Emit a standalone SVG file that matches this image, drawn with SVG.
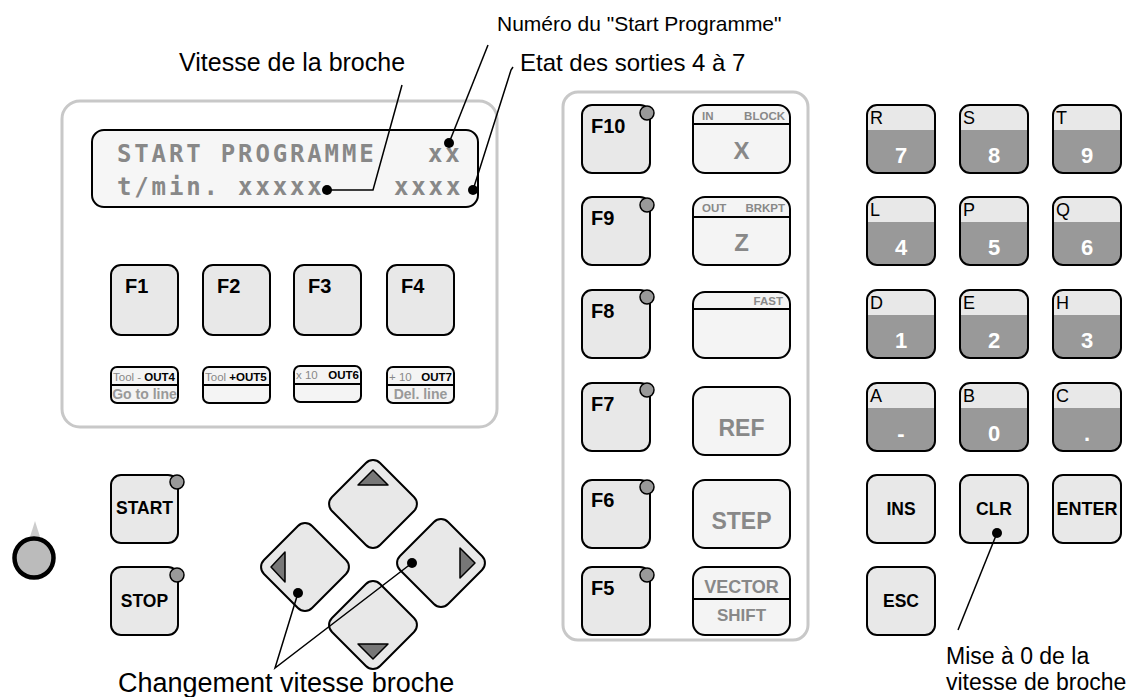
<svg xmlns="http://www.w3.org/2000/svg" xmlns:xlink="http://www.w3.org/1999/xlink" width="1142" height="697" viewBox="0 0 1142 697">
  <style>
    .panel { fill: #ffffff; stroke: #c8c8c8; stroke-width: 3; }
    .key { fill: #e8e8e8; stroke: #000; stroke-width: 2; }
    .keyl { fill: #f4f4f4; stroke: #000; stroke-width: 2; }
    .div { stroke: #000; stroke-width: 2; }
    .led { fill: #999; stroke: #000; stroke-width: 1.5; }
    .lbl { font-family: "Liberation Sans", Arial, sans-serif; }
    .fk { font-family: "Liberation Sans", Arial, sans-serif; font-weight: bold; font-size: 20px; fill: #000; }
    .bk { font-family: "Liberation Sans", Arial, sans-serif; font-weight: bold; font-size: 17.5px; fill: #000; text-anchor: middle; }
    .gbig { font-family: "Liberation Sans", Arial, sans-serif; font-weight: bold; fill: #888; text-anchor: middle; }
    .gsm { font-family: "Liberation Sans", Arial, sans-serif; font-weight: bold; font-size: 11.5px; fill: #888; }
    .letter { font-family: "Liberation Sans", Arial, sans-serif; font-size: 18px; fill: #000; }
    .digit { font-family: "Liberation Sans", Arial, sans-serif; font-weight: bold; font-size: 22px; fill: #fff; text-anchor: middle; }
    .lcd { font-family: "DejaVu Sans Mono", "Liberation Mono", monospace; font-weight: bold; font-size: 24px; fill: #888; letter-spacing: 2.85px; }
    .note { font-family: "Liberation Sans", Arial, sans-serif; fill: #000; }
    .tiny { font-family: "Liberation Sans", Arial, sans-serif; font-size: 11.5px; }
    .ln { fill: none; stroke: #000; stroke-width: 1.5; }
    .arrow { fill: #777; stroke: #000; stroke-width: 1.5; stroke-linejoin: round; }
  </style>
  <defs>
    <!-- function key body -->
    <g id="fkey">
      <rect class="key" x="0" y="0" width="68" height="68" rx="10"/>
    </g>
    <!-- numeric key: light top band, grey lower band -->
    <g id="numkey">
      <rect x="0" y="0" width="68" height="68" rx="10" fill="#e8e8e8"/>
      <path d="M0,25 H68 V58 A10,10 0 0 1 58,68 H10 A10,10 0 0 1 0,58 Z" fill="#999"/>
      <rect x="0" y="0" width="68" height="68" rx="10" fill="none" stroke="#000" stroke-width="2"/>
    </g>
    <!-- small legend strip under F1..F4 -->
    <g id="strip">
      <rect class="keyl" x="0" y="0" width="67" height="36" rx="6"/>
      <line class="div" x1="0" y1="18" x2="67" y2="18"/>
    </g>
    <!-- rounded diamond for the spindle keys -->
    <rect id="diamond" class="key" x="-34" y="-34" width="68" height="68" rx="10" transform="rotate(45)"/>
  </defs>

  <!-- left panel: display and F1..F4 -->
  <g id="display-panel">
    <rect class="panel" x="62" y="101" width="435" height="326" rx="18"/>
  </g>
  <g id="lcd">
    <rect x="92" y="130" width="386" height="77" rx="12" fill="#f6f6f6" stroke="#000" stroke-width="2"/>
    <text class="lcd" x="117" y="162">START PROGRAMME</text>
    <text class="lcd" x="428" y="162">xx</text>
    <text class="lcd" x="117" y="195">t/min. xxxxx</text>
    <text class="lcd" x="394" y="195">xxxx</text>
  </g>

  <g id="key-f1"><rect class="key" x="111" y="265" width="67" height="70" rx="10"/><text class="fk" x="125" y="293">F1</text></g>
  <g id="key-f2"><rect class="key" x="203" y="265" width="67" height="70" rx="10"/><text class="fk" x="217" y="293">F2</text></g>
  <g id="key-f3"><rect class="key" x="294" y="265" width="67" height="70" rx="10"/><text class="fk" x="308" y="293">F3</text></g>
  <g id="key-f4"><rect class="key" x="387" y="265" width="67" height="70" rx="10"/><text class="fk" x="401" y="293">F4</text></g>

  <g id="legend-f1">
    <use xlink:href="#strip" x="111" y="367"/>
    <text class="tiny" x="113" y="381"><tspan fill="#888">Tool - </tspan><tspan font-weight="bold" fill="#000">OUT4</tspan></text>
    <text class="lbl" x="144.5" y="399" font-size="14" font-weight="bold" fill="#999" text-anchor="middle">Go to line</text>
  </g>
  <g id="legend-f2">
    <use xlink:href="#strip" x="203" y="367"/>
    <text class="tiny" x="205" y="381"><tspan fill="#888">Tool </tspan><tspan font-weight="bold" fill="#000">+OUT5</tspan></text>
  </g>
  <g id="legend-f3">
    <use xlink:href="#strip" x="294" y="366"/>
    <text class="tiny" x="296" y="379" fill="#888">x 10</text>
    <text class="tiny" x="359" y="379" font-weight="bold" text-anchor="end">OUT6</text>
  </g>
  <g id="legend-f4">
    <use xlink:href="#strip" x="387" y="367"/>
    <text class="tiny" x="389" y="381" fill="#888">+ 10</text>
    <text class="tiny" x="452" y="381" font-weight="bold" text-anchor="end">OUT7</text>
    <text class="lbl" x="420.5" y="399" font-size="14" font-weight="bold" fill="#999" text-anchor="middle">Del. line</text>
  </g>

  <!-- middle panel: F5..F10 and jog keys -->
  <g id="function-panel">
    <rect class="panel" x="563" y="92" width="245" height="548" rx="15"/>
  </g>
  <g id="key-f10"><use xlink:href="#fkey" x="582" y="105"/><circle class="led" cx="647" cy="113" r="7"/><text class="fk" x="591" y="133">F10</text></g>
  <g id="key-f9"><use xlink:href="#fkey" x="582" y="197"/><circle class="led" cx="647" cy="205" r="7"/><text class="fk" x="591" y="225">F9</text></g>
  <g id="key-f8"><use xlink:href="#fkey" x="582" y="290"/><circle class="led" cx="647" cy="297" r="7"/><text class="fk" x="591" y="318">F8</text></g>
  <g id="key-f7"><use xlink:href="#fkey" x="582" y="383"/><circle class="led" cx="647" cy="390" r="7"/><text class="fk" x="591" y="411">F7</text></g>
  <g id="key-f6"><use xlink:href="#fkey" x="582" y="480"/><circle class="led" cx="647" cy="487" r="7"/><text class="fk" x="591" y="507">F6</text></g>
  <g id="key-f5"><use xlink:href="#fkey" x="582" y="567"/><circle class="led" cx="647" cy="575" r="7"/><text class="fk" x="591" y="595">F5</text></g>

  <g id="key-x">
    <rect class="keyl" x="693" y="105" width="97" height="68" rx="12"/>
    <line class="div" x1="693" y1="124" x2="790" y2="124"/>
    <text class="gsm" x="702" y="120">IN</text>
    <text class="gsm" x="785" y="120" text-anchor="end">BLOCK</text>
    <text class="gbig" x="741.5" y="159" style="font-size:24px">X</text>
  </g>
  <g id="key-z">
    <rect class="keyl" x="693" y="197" width="97" height="68" rx="12"/>
    <line class="div" x1="693" y1="217" x2="790" y2="217"/>
    <text class="gsm" x="702" y="212">OUT</text>
    <text class="gsm" x="785" y="212" text-anchor="end">BRKPT</text>
    <text class="gbig" x="741.5" y="251" style="font-size:24px">Z</text>
  </g>
  <g id="key-fast">
    <rect class="keyl" x="693" y="292" width="97" height="66" rx="12"/>
    <line class="div" x1="693" y1="309" x2="790" y2="309"/>
    <text class="gsm" x="783" y="305" text-anchor="end">FAST</text>
  </g>
  <g id="key-ref">
    <rect class="keyl" x="693" y="387" width="97" height="68" rx="12"/>
    <text class="gbig" x="741.5" y="436" style="font-size:23px">REF</text>
  </g>
  <g id="key-step">
    <rect class="keyl" x="693" y="480" width="97" height="68" rx="12"/>
    <text class="gbig" x="741.5" y="529" style="font-size:23px">STEP</text>
  </g>
  <g id="key-vector-shift">
    <rect class="keyl" x="693" y="567" width="97" height="68" rx="12"/>
    <line class="div" x1="693" y1="599" x2="790" y2="599"/>
    <text class="gbig" x="741.5" y="593" style="font-size:18px">VECTOR</text>
    <text class="gbig" x="741.5" y="621" style="font-size:17px">SHIFT</text>
  </g>

  <!-- numeric keypad -->
  <g id="key-7"><use xlink:href="#numkey" x="867" y="105"/><text class="letter" x="870" y="124">R</text><text class="digit" x="901" y="163">7</text></g>
  <g id="key-8"><use xlink:href="#numkey" x="960" y="105"/><text class="letter" x="963" y="124">S</text><text class="digit" x="994" y="163">8</text></g>
  <g id="key-9"><use xlink:href="#numkey" x="1053" y="105"/><text class="letter" x="1056" y="124">T</text><text class="digit" x="1087" y="163">9</text></g>
  <g id="key-4"><use xlink:href="#numkey" x="867" y="197"/><text class="letter" x="870" y="216">L</text><text class="digit" x="901" y="255">4</text></g>
  <g id="key-5"><use xlink:href="#numkey" x="960" y="197"/><text class="letter" x="963" y="216">P</text><text class="digit" x="994" y="255">5</text></g>
  <g id="key-6"><use xlink:href="#numkey" x="1053" y="197"/><text class="letter" x="1056" y="216">Q</text><text class="digit" x="1087" y="255">6</text></g>
  <g id="key-1"><use xlink:href="#numkey" x="867" y="290"/><text class="letter" x="870" y="309">D</text><text class="digit" x="901" y="348">1</text></g>
  <g id="key-2"><use xlink:href="#numkey" x="960" y="290"/><text class="letter" x="963" y="309">E</text><text class="digit" x="994" y="348">2</text></g>
  <g id="key-3"><use xlink:href="#numkey" x="1053" y="290"/><text class="letter" x="1056" y="309">H</text><text class="digit" x="1087" y="348">3</text></g>
  <g id="key-minus"><use xlink:href="#numkey" x="867" y="383"/><text class="letter" x="870" y="402">A</text><text class="digit" x="901" y="441">-</text></g>
  <g id="key-0"><use xlink:href="#numkey" x="960" y="383"/><text class="letter" x="963" y="402">B</text><text class="digit" x="994" y="441">0</text></g>
  <g id="key-dot"><use xlink:href="#numkey" x="1053" y="383"/><text class="letter" x="1056" y="402">C</text><text class="digit" x="1087" y="441">.</text></g>

  <g id="key-ins"><rect class="key" x="867" y="475" width="68" height="68" rx="10"/><text class="bk" x="901" y="515">INS</text></g>
  <g id="key-clr"><rect class="key" x="960" y="475" width="68" height="68" rx="10"/><text class="bk" x="994" y="515">CLR</text></g>
  <g id="key-enter"><rect class="key" x="1053" y="475" width="68" height="68" rx="10"/><text class="bk" x="1087" y="515" style="font-size:18px">ENTER</text></g>
  <g id="key-esc"><rect class="key" x="867" y="567" width="68" height="68" rx="10"/><text class="bk" x="901" y="607">ESC</text></g>

  <!-- cycle keys and override knob -->
  <g id="key-start"><rect class="key" x="111" y="475" width="67" height="68" rx="10"/><circle class="led" cx="177" cy="482" r="7"/><text class="bk" x="144.5" y="514">START</text></g>
  <g id="key-stop"><rect class="key" x="111" y="567" width="67" height="68" rx="10"/><circle class="led" cx="177" cy="575" r="7"/><text class="bk" x="144.5" y="607">STOP</text></g>
  <g id="knob">
    <path d="M35,521 L29,540 L41,540 Z" fill="#ccc"/>
    <circle cx="34" cy="558" r="19.5" fill="#bbb" stroke="#000" stroke-width="4.5"/>
  </g>

  <!-- spindle speed keys -->
  <g id="key-up"><use xlink:href="#diamond" transform="translate(373,504)"/><path class="arrow" d="M373,470 L388,485 L358,485 Z"/></g>
  <g id="key-left"><use xlink:href="#diamond" transform="translate(305,567)"/><path class="arrow" d="M271,567 L285,552 L285,582 Z"/></g>
  <g id="key-right"><use xlink:href="#diamond" transform="translate(441,563)"/><path class="arrow" d="M475,563 L460,548 L460,578 Z"/></g>
  <g id="key-down"><use xlink:href="#diamond" transform="translate(373,625)"/><path class="arrow" d="M373,659 L388,644 L358,644 Z"/></g>

  <!-- callout lines -->
  <g id="connectors">
    <polyline class="ln" points="402,85 373,190 327,190"/>
    <circle cx="327" cy="190" r="5"/>
    <line class="ln" x1="488" y1="45" x2="449" y2="143"/>
    <circle cx="449" cy="143" r="5"/>
    <path class="ln" d="M513,67 L511,70 L473,190"/>
    <circle cx="473" cy="190" r="5"/>
    <polyline class="ln" points="298,593 275,668 412,563"/>
    <circle cx="298" cy="593" r="5"/>
    <circle cx="412" cy="563" r="5"/>
    <line class="ln" x1="997" y1="533" x2="958" y2="630"/>
    <circle cx="997" cy="533" r="5"/>
  </g>

  <!-- annotations -->
  <g id="labels">
    <text class="note" x="497" y="31" style="font-size:21px">Numéro du "Start Programme"</text>
    <text class="note" x="179" y="71" style="font-size:25px">Vitesse de la broche</text>
    <text class="note" x="520" y="71" style="font-size:24px">Etat des sorties 4 à 7</text>
    <text class="note" x="118" y="692" style="font-size:27px">Changement vitesse broche</text>
    <text class="note" x="946" y="664" style="font-size:23px">Mise à 0 de la</text>
    <text class="note" x="946" y="690" style="font-size:23px">vitesse de broche</text>
  </g>
</svg>
